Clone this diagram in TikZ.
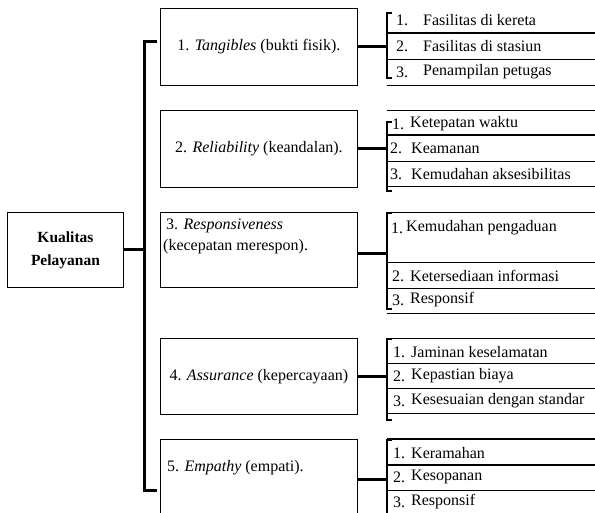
\documentclass[tikz,border=0pt]{standalone}
\usepackage{fontspec}
\setmainfont{Liberation Serif}
\usetikzlibrary{calc}
\begin{document}
\begin{tikzpicture}[x=1pt,y=-1pt,
  every node/.style={font=\fontsize{16}{19}\selectfont, inner sep=0pt},
  box/.style={draw, line width=0.9pt, minimum width=197pt, minimum height=77pt, anchor=north west},
  txt/.style={anchor=west},
  mainbr/.style={line width=3pt},
  subbr/.style={line width=2pt},
  conn/.style={line width=3pt},
  thinsep/.style={line width=0.9pt},
  thicksep/.style={line width=2pt}]
\useasboundingbox (0,0) rectangle (595,513);
\clip (0,0) rectangle (595,513);

% root
\node[draw, line width=0.9pt, minimum width=116pt, minimum height=75pt, anchor=north west,
      align=center, font=\fontsize{15.5}{23}\selectfont\bfseries] (kp) at (7,212) {Kualitas\\Pelayanan};

% main bracket
\coordinate (mt) at (144,42);
\coordinate (mb) at (144,490);
\draw[mainbr] (157,42) -- (mt) -- (mb) -- (157,490);
\draw[conn] (kp.east) -- (kp.east -| mt);

% dimension boxes
\node[box] (b1) at (160,8) {};
\node at (b1.center) {1. \textit{Tangibles} (bukti fisik).};
\node[box] (b2) at (160,110) {};
\node at (b2.center) {2. \textit{Reliability} (keandalan).};
\node[box, minimum height=75pt] (b3) at (160,212) {};
\node[txt] (b3a) at (166,226) {3. \textit{Responsiveness}};
\node[txt] (b3b) at (163,247) {(kecepatan merespon).};
\node[box, minimum height=76pt] (b4) at (160,338) {};
\node at (b4.center) {4. \textit{Assurance} (kepercayaan)};
\node[box, minimum height=90pt] (b5) at (160,439) {};
\node[txt] (b5a) at (167,468) {5. \textit{Empathy} (empati).};

% sub-bracket coordinates
\coordinate (g1t) at (387,13);  \coordinate (g1b) at (387,78);
\coordinate (g2t) at (387,122); \coordinate (g2b) at (387,191);
\coordinate (g3t) at (387,213); \coordinate (g3b) at (387,309);
\coordinate (g4t) at (387,339); \coordinate (g4b) at (387,420);
\coordinate (g5t) at (387,440); \coordinate (g5b) at (387,520);

\draw[subbr] ($(g1t)+(5,0)$) -- (g1t) -- (g1b) -- ++(5,0);
\draw[subbr] ($(g2t)+(5,0)$) -- (g2t) -- (g2b) -- ++(5,0);
\draw[subbr] ($(g3t)+(5,0)$) -- (g3t) -- (g3b) -- ++(5,0);
\draw[subbr] ($(g4t)+(5,0)$) -- (g4t) -- (g4b) -- ++(5,0);
\draw[subbr] ($(g5t)+(5,0)$) -- (g5t) -- (g5b);

% connectors box -> sub-bracket
\draw[conn] (b1.east) -- (b1.east -| g1t);
\draw[conn] (b2.east) -- (b2.east -| g2t);
\draw[conn] ($(b3.east)+(0,4)$) -- ($(b3.east -| g3t)+(0,4)$);
\draw[conn] (b4.east) -- (b4.east -| g4t);
\draw[conn] (b5.east |- 0,479) -- (g5t |- 0,479);

% separators
\draw[thicksep] (387,33) -- (595,33);
\draw[thinsep] (387,59) -- (595,59);
\draw[thinsep] (387,85) -- (595,85);
\draw[thinsep] (387,110) -- (595,110);
\draw[thicksep] (387,135) -- (595,135);
\draw[thinsep] (387,161) -- (595,161);
\draw[thinsep] (387,186) -- (595,186);
\draw[thinsep] (387,212) -- (595,212);
\draw[thinsep] (387,262) -- (595,262);
\draw[thinsep] (387,288) -- (595,288);
\draw[thinsep] (387,313) -- (595,313);
\draw[thinsep] (387,338) -- (595,338);
\draw[thinsep] (387,363) -- (595,363);
\draw[thinsep] (387,388) -- (595,388);
\draw[thinsep] (387,413) -- (595,413);
\draw[thicksep] (387,439) -- (595,439);
\draw[thicksep] (387,465) -- (595,465);
\draw[thinsep] (387,490) -- (595,490);

% group 1
\node[txt] (n11) at (396,20) {1.}; \node[txt] (l11) at (423,20) {Fasilitas di kereta};
\node[txt] (n12) at (396,46) {2.}; \node[txt] (l12) at (423,46) {Fasilitas di stasiun};
\node[txt] (n13) at (396,72) {3.}; \node[txt] (l13) at (423,72) {Penampilan petugas};
% group 2
\node[txt] (n21) at (392,124) {1.}; \node[txt] (l21) at (410,124) {Ketepatan waktu};
\node[txt] (n22) at (390,148) {2.}; \node[txt] (l22) at (411,148) {Keamanan};
\node[txt] (n23) at (390,174) {3.}; \node[txt] (l23) at (411,174) {Kemudahan aksesibilitas};
% group 3
\node[txt] (n31) at (391,228) {1.}; \node[txt] (l31) at (406,228) {Kemudahan pengaduan};
\node[txt] (n32) at (392,276) {2.}; \node[txt] (l32) at (410,276) {Ketersediaan informasi};
\node[txt] (n33) at (392,300) {3.}; \node[txt] (l33) at (410,300) {Responsif};
% group 4
\node[txt] (n41) at (393,352) {1.}; \node[txt] (l41) at (411,352) {Jaminan keselamatan};
\node[txt] (n42) at (393,376) {2.}; \node[txt] (l42) at (411,376) {Kepastian biaya};
\node[txt] (n43) at (393,401) {3.}; \node[txt] (l43) at (411,401) {Kesesuaian dengan standar};
% group 5
\node[txt] (n51) at (393,453) {1.}; \node[txt] (l51) at (411,453) {Keramahan};
\node[txt] (n52) at (393,477) {2.}; \node[txt] (l52) at (411,477) {Kesopanan};
\node[txt] (n53) at (393,502) {3.}; \node[txt] (l53) at (411,502) {Responsif};
\end{tikzpicture}
\end{document}
